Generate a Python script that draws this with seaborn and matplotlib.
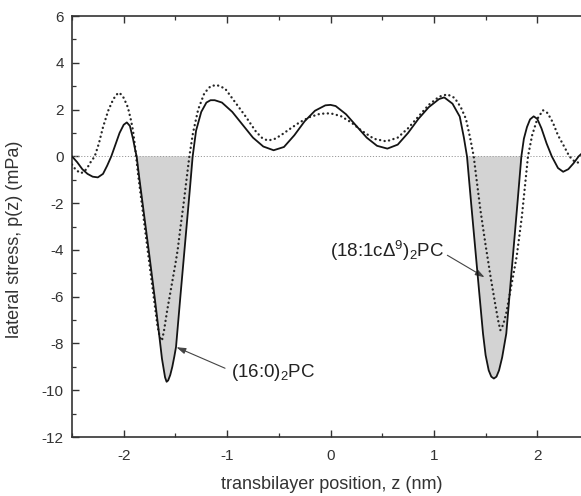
import numpy as np
import pandas as pd
import matplotlib
matplotlib.use("Agg")
import matplotlib.pyplot as plt
import seaborn as sns
from matplotlib.ticker import MultipleLocator

# ---- data ----
z_dppc = [-2.50, -2.45, -2.40, -2.35, -2.30, -2.25, -2.20, -2.16, -2.12, -2.08, -2.04, -2.00,
          -1.97, -1.94, -1.91, -1.89, -1.875,
          -1.85, -1.80, -1.75, -1.70, -1.655, -1.63, -1.60, -1.585, -1.57, -1.55, -1.53, -1.51,
          -1.494, -1.45, -1.40, -1.36, -1.333,
          -1.30, -1.25, -1.20, -1.16, -1.12, -1.05, -0.95, -0.85, -0.75, -0.65, -0.55, -0.45,
          -0.35, -0.25, -0.15, -0.05, 0.00, 0.05, 0.15, 0.25, 0.35, 0.45, 0.55, 0.65, 0.75,
          0.85, 0.95, 1.05, 1.10, 1.18, 1.25, 1.29, 1.32,
          1.36, 1.40, 1.44, 1.475, 1.50, 1.53, 1.555, 1.58, 1.605, 1.63, 1.66, 1.70, 1.74,
          1.78, 1.81, 1.846,
          1.87, 1.90, 1.93, 1.965, 2.00, 2.04, 2.09, 2.14, 2.20, 2.25, 2.30, 2.35, 2.40,
          2.45, 2.50]
p_dppc = [0.00, -0.25, -0.55, -0.75, -0.87, -0.90, -0.75, -0.40, 0.00, 0.50, 1.00, 1.35,
          1.45, 1.30, 0.75, 0.30, 0.00,
          -0.90, -2.60, -4.30, -6.05, -7.70, -8.65, -9.45, -9.64, -9.58, -9.35, -9.00, -8.55,
          -8.15, -5.90, -3.40, -1.40, 0.00,
          1.10, 1.90, 2.30, 2.40, 2.40, 2.30, 1.90, 1.35, 0.80, 0.42, 0.26, 0.40,
          0.90, 1.50, 1.95, 2.18, 2.20, 2.15, 1.80, 1.30, 0.80, 0.45, 0.33, 0.50, 1.00,
          1.60, 2.10, 2.45, 2.52, 2.25, 1.70, 0.80, 0.00,
          -2.00, -3.95, -5.90, -7.58, -8.50, -9.15, -9.42, -9.50, -9.42, -9.15, -8.60, -7.58,
          -5.50, -3.45, -1.90, 0.00,
          0.75, 1.25, 1.58, 1.71, 1.60, 1.20, 0.55, 0.00, -0.50, -0.66, -0.55, -0.30, 0.00,
          0.20, 0.35]

z_dopc = [-2.50, -2.46, -2.41, -2.36, -2.32, -2.28, -2.24, -2.20, -2.15, -2.10, -2.06, -2.04,
          -2.00, -1.96, -1.93, -1.91, -1.89,
          -1.88, -1.86, -1.81, -1.76, -1.71, -1.675, -1.65, -1.63, -1.61, -1.58, -1.54, -1.50,
          -1.478, -1.45, -1.42, -1.39, -1.365,
          -1.33, -1.28, -1.22, -1.16, -1.10, -1.02, -0.92, -0.82, -0.72, -0.66, -0.61, -0.55,
          -0.48, -0.40, -0.30, -0.20, -0.10, 0.00, 0.10, 0.20, 0.30, 0.42, 0.54, 0.65, 0.75,
          0.85, 0.95, 1.05, 1.13, 1.20, 1.26, 1.31, 1.35, 1.385,
          1.41, 1.45, 1.50, 1.55, 1.60, 1.625, 1.643, 1.67, 1.70, 1.75, 1.80, 1.85, 1.88, 1.91,
          1.95, 2.00, 2.055, 2.10, 2.15, 2.20, 2.25, 2.31, 2.36, 2.42, 2.50]
p_dopc = [-0.35, -0.60, -0.72, -0.55, -0.25, 0.00, 0.55, 1.25, 1.95, 2.45, 2.68, 2.72,
          2.50, 2.10, 1.55, 1.10, 0.40,
          0.00, -0.80, -2.55, -4.30, -6.00, -7.20, -7.75, -7.88, -7.45, -6.60, -5.60, -4.60,
          -4.00, -3.00, -2.00, -0.90, 0.00,
          1.00, 2.00, 2.70, 3.00, 3.05, 2.90, 2.30, 1.70, 1.05, 0.78, 0.68, 0.72,
          0.90, 1.15, 1.45, 1.68, 1.82, 1.84, 1.72, 1.45, 1.10, 0.75, 0.64, 0.80, 1.20,
          1.70, 2.20, 2.55, 2.65, 2.50, 2.10, 1.60, 0.80, 0.00,
          -0.90, -2.30, -3.80, -5.20, -6.50, -7.10, -7.43, -7.20, -6.70, -5.50, -4.30, -2.60,
          -1.30, 0.00,
          0.90, 1.60, 1.97, 1.85, 1.45, 0.90, 0.50, 0.00, -0.22, -0.30, -0.30]

x_ticks = [-2, -1, 0, 1, 2]
y_ticks = [-12, -10, -8, -6, -4, -2, 0, 2, 4, 6]
label_dppc = "(16:0)$_2$PC"
label_dopc = "(18:1cΔ$^9$)$_2$PC"

# ---- style ----
sns.set_style("ticks")
plt.rcParams["font.family"] = ["Liberation Sans", "DejaVu Sans"]
plt.rcParams["mathtext.fontset"] = "custom"
plt.rcParams["mathtext.rm"] = "Liberation Sans"
plt.rcParams["mathtext.it"] = "Liberation Sans:italic"
plt.rcParams["axes.unicode_minus"] = False

fig = plt.figure(figsize=(5.81, 4.96), dpi=100)
ax = fig.add_axes([72 / 581, 1 - 437 / 496, 517 / 581, 421 / 496])

df1 = pd.DataFrame({"z": z_dppc, "p": p_dppc})
df2 = pd.DataFrame({"z": z_dopc, "p": p_dopc})

z1 = np.array(z_dppc)
p1 = np.array(p_dppc)
mask = (p1 <= 0) & (np.abs(z1) > 1.25) & (np.abs(z1) < 1.95)
ax.fill_between(z1, p1, 0, where=mask, color="#d3d3d3", linewidth=0, zorder=1)

ax.axhline(0, color="#9a9a9a", lw=0.7, ls=(0, (1.2, 1.8)), zorder=2)

sns.lineplot(data=df2, x="z", y="p", ax=ax, sort=False, estimator=None,
             color="#262626", lw=1.7, zorder=3)
ax.lines[-1].set_linestyle((0, (0.05, 1.9)))
ax.lines[-1].set_dash_capstyle("round")
sns.lineplot(data=df1, x="z", y="p", ax=ax, sort=False, estimator=None,
             color="#141414", lw=1.3, zorder=4)

ax.set_xlim(-2.5, 2.5)
ax.set_ylim(-12, 6)
ax.set_xticks(x_ticks)
ax.set_yticks(y_ticks)
ax.xaxis.set_minor_locator(MultipleLocator(0.5))
ax.yaxis.set_minor_locator(MultipleLocator(1))
ax.tick_params(axis="both", which="both", direction="in", color="#333333",
               top=True, right=True, labelcolor="#333333")
ax.tick_params(axis="both", which="major", length=5, width=1.0, labelsize=11)
ax.tick_params(axis="both", which="minor", length=3, width=0.9)
ax.tick_params(axis="x", which="major", pad=9)
ax.tick_params(axis="y", which="major", pad=6)
for s in ax.spines.values():
    s.set_color("#333333")
    s.set_linewidth(1.2)

ax.set_xlabel("transbilayer position, z (nm)", fontsize=13, color="#333333")
ax.set_ylabel("lateral stress, p(z) (mPa)", fontsize=13, color="#333333")
ax.xaxis.set_label_coords(0.502, -0.093)
ax.yaxis.set_label_coords(-0.094, 0.47)

arrow = dict(arrowstyle="-|>,head_length=0.55,head_width=0.18", color="#444444",
             lw=0.8, shrinkA=0, shrinkB=0)
ax.annotate("", xy=(-1.49, -8.16), xytext=(-1.02, -9.06), arrowprops=arrow)
ax.annotate("", xy=(1.49, -5.17), xytext=(1.13, -4.23), arrowprops=arrow)
ax.text(-0.96, -9.25, label_dppc, ha="left", va="center", fontsize=13.5, color="#222222")
ax.text(1.10, -4.05, label_dopc, ha="right", va="center", fontsize=13.5, color="#222222")

fig.savefig("out.png", dpi=100)
